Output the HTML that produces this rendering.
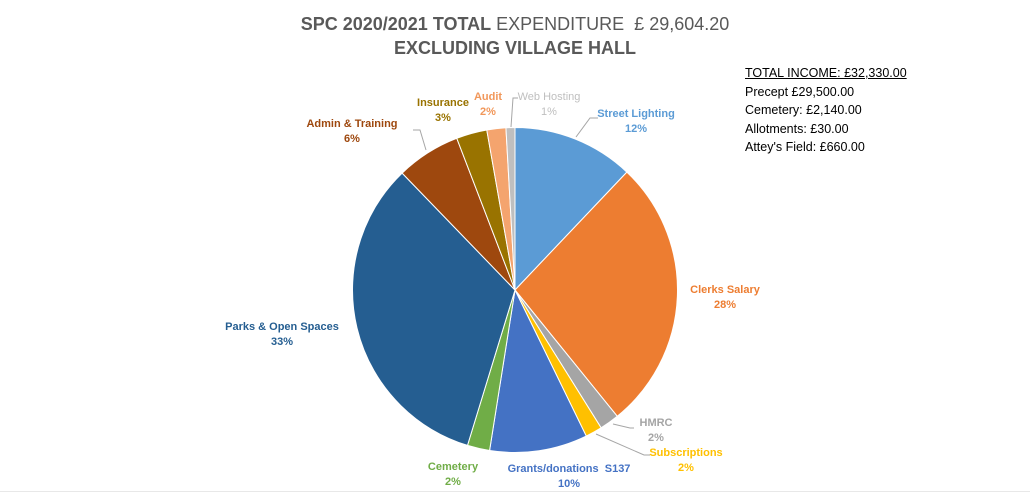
<!DOCTYPE html>
<html><head><meta charset="utf-8"><style>
html,body{margin:0;padding:0;background:#fff;}
#c{position:relative;width:1030px;height:493px;overflow:hidden;font-family:"Liberation Sans",sans-serif;}
.t{position:absolute;left:0;width:1030px;text-align:center;color:#595959;font-size:18px;}
.lb{position:absolute;font-size:11px;font-weight:bold;text-align:center;line-height:15px;white-space:nowrap;transform:translateX(-50%);}
.inc{position:absolute;left:745px;top:64px;font-size:12.5px;line-height:18.5px;color:#000;}
</style></head><body><div id="c">
<div class="t" style="top:14px;"><b>SPC 2020/2021 TOTAL</b> EXPENDITURE&nbsp; £ 29,604.20</div>
<div class="t" style="top:38px;font-weight:bold;">EXCLUDING VILLAGE HALL</div>
<svg id="s" width="1030" height="493" style="position:absolute;left:0;top:0"></svg>
<div class="inc"><u>TOTAL INCOME: £32,330.00</u><br>Precept £29,500.00<br>Cemetery: £2,140.00<br>Allotments: £30.00<br>Attey's Field: £660.00</div>
<div class="lb" style="left:636px;top:107px;color:#5B9BD5">Street Lighting<br>12%</div>
<div class="lb" style="left:725px;top:283px;color:#ED7D31">Clerks Salary<br>28%</div>
<div class="lb" style="left:656px;top:416px;color:#A5A5A5">HMRC<br>2%</div>
<div class="lb" style="left:686px;top:446px;color:#FFC000">Subscriptions<br>2%</div>
<div class="lb" style="left:569px;top:462px;color:#4472C4">Grants/donations&nbsp; S137<br>10%</div>
<div class="lb" style="left:453px;top:460px;color:#70AD47">Cemetery<br>2%</div>
<div class="lb" style="left:282px;top:320px;color:#255E91">Parks &amp; Open Spaces<br>33%</div>
<div class="lb" style="left:352px;top:117px;color:#9E480E">Admin &amp; Training<br>6%</div>
<div class="lb" style="left:443px;top:96px;color:#997300">Insurance<br>3%</div>
<div class="lb" style="left:488px;top:90px;color:#F1975A">Audit<br>2%</div>
<div class="lb" style="left:549px;top:90px;color:#BFBFBF;font-weight:normal">Web Hosting<br>1%</div>
<div style="position:absolute;left:0;top:491px;width:1030px;height:1px;background:#e8e8e8"></div>
</div>
<script>
var cx=515,cy=290,r=162.5;
var b=[0,43.5,141,148,154,189,197,316,339,350,356.8,360];
var col=["#5B9BD5","#ED7D31","#A5A5A5","#FFC000","#4472C4","#70AD47","#255E91","#9E480E","#997300","#F4A46E","#BFBFBF"];
function p(a){a=a*Math.PI/180;return (cx+r*Math.sin(a)).toFixed(2)+","+(cy-r*Math.cos(a)).toFixed(2);}
var h="";
for(var i=0;i<col.length;i++){var a0=b[i],a1=b[i+1];
h+='<path d="M'+cx+','+cy+' L'+p(a0)+' A'+r+','+r+' 0 '+((a1-a0)>180?1:0)+' 1 '+p(a1)+' Z" fill="'+col[i]+'" stroke="#fff" stroke-width="1"/>';}
h+='<g fill="none" stroke="#A6A6A6" stroke-width="1">';
h+='<polyline points="511,127 513,98 518,98"/>';
h+='<polyline points="576,137 590,118 598,118"/>';
h+='<polyline points="426,150 420,130 413,130"/>';
h+='<polyline points="613,424 630,428 634,428"/>';
h+='<polyline points="596,434 644,455 650,455"/>';
h+='</g>';
document.getElementById("s").innerHTML=h;
</script>
</body></html>
